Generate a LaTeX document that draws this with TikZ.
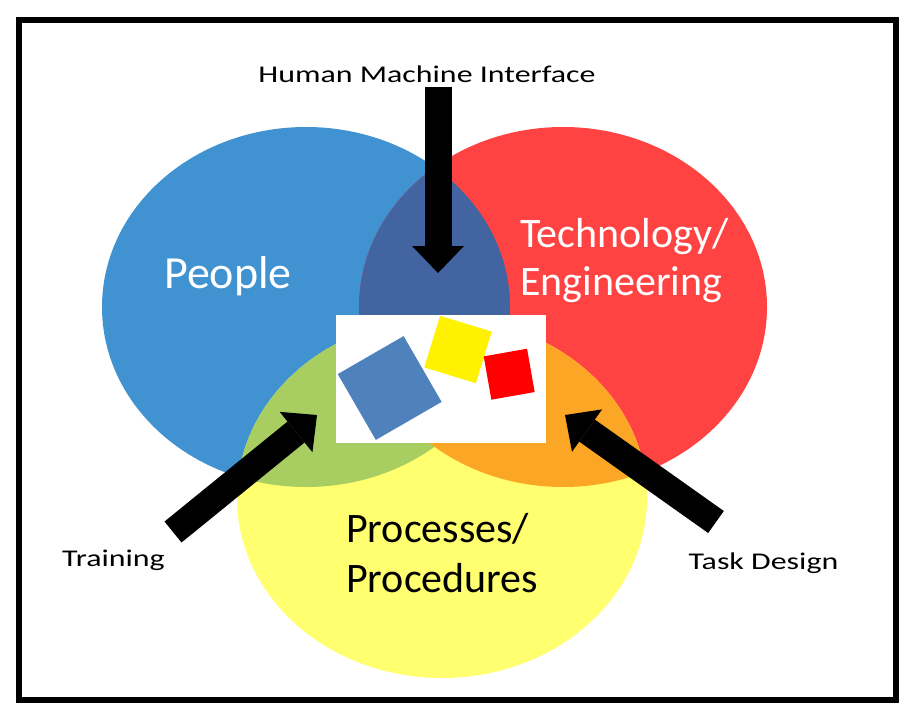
\documentclass[tikz,border=0pt]{standalone}
\usepackage{fontspec}
\setmainfont{Carlito}
\newfontfamily\widefont[FakeStretch=1.33]{Carlito}
\usetikzlibrary{arrows.meta}
\definecolor{peopleblue}{RGB}{64, 147, 208}
\definecolor{techred}{RGB}{255, 67, 67}
\definecolor{procyellow}{RGB}{255, 255, 112}
\definecolor{hmiblue}{RGB}{66, 100, 160}
\definecolor{traingreen}{RGB}{168, 206, 98}
\definecolor{taskorange}{RGB}{252, 166, 38}
\definecolor{tileblue}{RGB}{79, 129, 189}

% the three sets of the diagram
\newcommand{\peopleshape}{(306,307) ellipse [x radius=204, y radius=180]}
\newcommand{\techshape}{(563,307) ellipse [x radius=204, y radius=180]}
\newcommand{\procshape}{(442,498) ellipse [x radius=205, y radius=180]}

\begin{document}
\begin{tikzpicture}[
            x=1pt, y=-1pt,
            smalltext/.style={inner sep=0pt, anchor=base, font=\widefont\fontsize{24}{29}\selectfont},
            areatext/.style={inner sep=0pt, anchor=base west, align=left, font=\fontsize{42}{48}\selectfont},
            tile/.style={inner sep=0pt, minimum size=#1},
            blockarrow/.style={-{Triangle[length=27pt, width=52pt, line width=0pt]}, line width=27pt}
        ]
            \useasboundingbox (0,0) rectangle (917,720);

            \fill[peopleblue] \peopleshape;
            \fill[techred] \techshape;
            \fill[procyellow] \procshape;
            \begin{scope}
                \clip \peopleshape;
                \fill[hmiblue] \techshape;
                \fill[traingreen] \procshape;
            \end{scope}
            \begin{scope}
                \clip \techshape;
                \fill[taskorange] \procshape;
            \end{scope}

            \node[fill=white, inner sep=0pt, minimum width=210pt, minimum height=128pt] (center) at (441,379) {};
            \node[tile=76pt, fill=tileblue, rotate=30] (bluetile) at (389.7,388) {};
            \node[tile=54pt, fill=yellow, rotate=-17] (yellowtile) at (458,349.5) {};
            \node[tile=44pt, fill=red, rotate=10] (redtile) at (509.2,374.2) {};

            \node[smalltext] (hmi) at (427,82) {Human Machine Interface};
            \node[smalltext] (training) at (113.5,566) {Training};
            \node[smalltext] (task) at (763.5,569) {Task Design};
            \node[areatext, anchor=base, text=white, font=\fontsize{46}{48}\selectfont] (people) at (228,288) {People};
            \node[areatext, text=white] (tech) at (520,295) {Technology/\\Engineering};
            \node[areatext, font=\fontsize{42}{50}\selectfont] (proc) at (346,592) {Processes/\\Procedures};

            \coordinate (hmitail) at (438,87);
            \coordinate (hmitip) at (438,273);
            \coordinate (trainingtail) at (173,532);
            \coordinate (trainingtip) at (317,415);
            \coordinate (tasktail) at (716,522);
            \coordinate (tasktip) at (565,415);

            \draw[blockarrow] (hmitail) -- (hmitip);
            \draw[blockarrow] (trainingtail) -- (trainingtip);
            \draw[blockarrow] (tasktail) -- (tasktip);

            \draw[line width=6pt] (19,20) rectangle (895.5,699.5);
        \end{tikzpicture}
\end{document}
